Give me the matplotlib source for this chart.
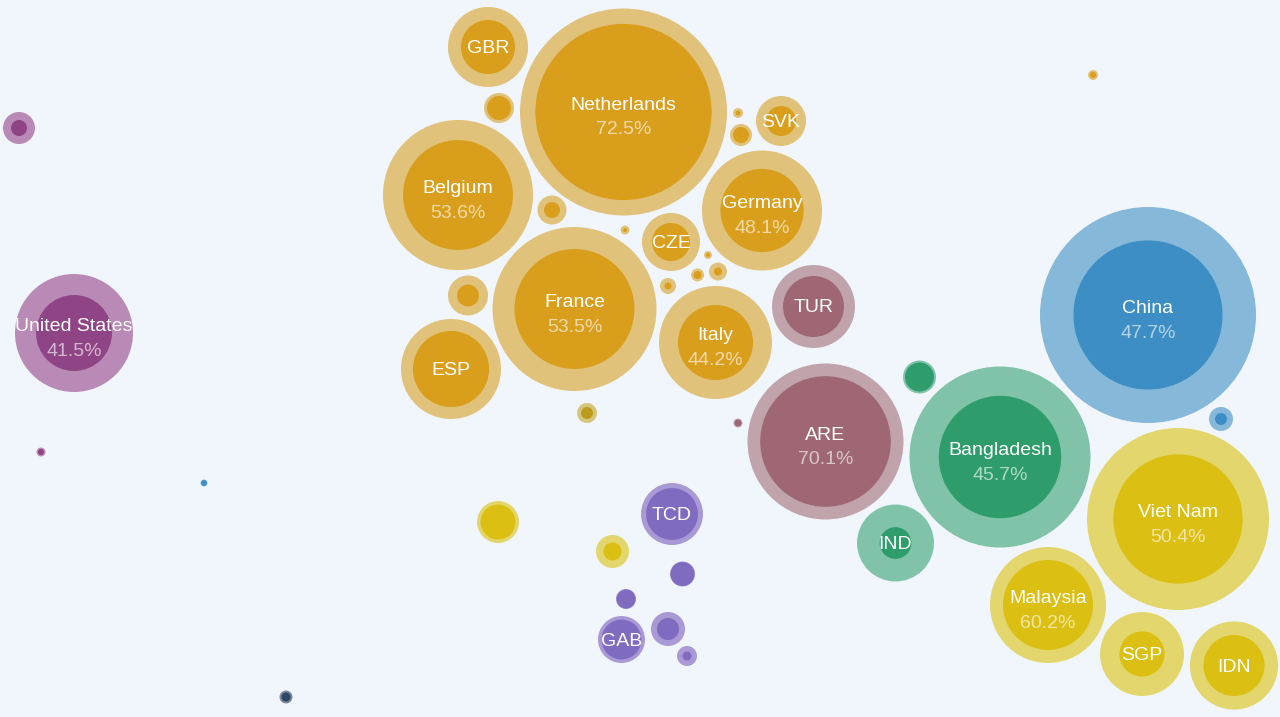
import numpy as np
import matplotlib
matplotlib.use("Agg")
import matplotlib.pyplot as plt
from matplotlib.patches import Circle

# ---- data ----
labels = ["", "United States", "",
          "", "China", "",
          "",
          "GBR", "Netherlands", "", "Belgium", "", "", "", "", "SVK", "Germany", "CZE",
          "France", "", "ESP", "Italy", "", "", "", "", "",
          "",
          "TUR", "", "ARE",
          "", "Bangladesh", "IND",
          "Viet Nam", "Malaysia", "SGP", "IDN", "", "",
          "TCD", "", "", "GAB", "", ""]
show_pct = ["United States", "China", "Netherlands", "Belgium", "Germany", "France",
            "Italy", "ARE", "Bangladesh", "Viet Nam", "Malaysia"]
groups = ["purple"] * 3 + ["blue"] * 3 + ["navy"] + ["gold"] * 20 + ["olive"] + \
         ["mauve"] * 3 + ["green"] * 3 + ["yellow"] * 6 + ["violet"] * 6
# total value (area units) and share (%)
totals = [2.56, 34.8, 0.20,
          0.12, 116.6, 1.44,
          0.42,
          16.0, 107.1, 2.25, 56.3, 2.10, 0.20, 0.25, 1.21, 6.25, 36.0, 8.41,
          67.2, 4.00, 25.0, 31.9, 0.16, 0.81, 0.42, 0.64, 0.25,
          1.00,
          17.2, 0.20, 60.8,
          2.72, 81.9, 14.8,
          82.8, 33.6, 17.6, 19.4, 4.41, 2.72,
          9.61, 1.56, 1.00, 5.52, 2.89, 1.00]
shares = [25.0, 41.5, 45.0,
          70.0, 47.7, 25.0,
          50.0,
          45.6, 72.5, 64.0, 53.6, 30.0, 20.0, 25.0, 53.0, 36.0, 48.1, 43.0,
          53.5, 30.0, 58.0, 44.2, 25.0, 20.0, 38.0, 19.0, 36.0,
          36.0,
          54.0, 60.0, 70.1,
          77.0, 45.7, 17.0,
          50.4, 60.2, 29.0, 48.0, 69.0, 30.0,
          70.0, 92.0, 90.0, 72.0, 42.0, 20.0]
# layout positions (force-packed)
xs = [19, 74, 41,
      204, 1148, 1221,
      286,
      488, 623.5, 499, 458, 552, 625, 738, 741, 781, 762, 671,
      574.5, 468, 451, 715.5, 708, 718, 697.5, 668, 1093,
      587,
      813.5, 738, 825.5,
      919.5, 1000, 895.5,
      1178, 1048, 1142, 1234, 498, 612.5,
      672, 682.5, 626, 621.5, 668, 687]
ys = [128, 333, 452,
      483, 315, 419,
      697,
      47, 112, 108, 195, 210, 230, 113, 135, 121, 210.5, 242,
      309, 295.5, 369, 342.5, 255, 271.5, 275, 286, 75,
      413,
      306.5, 423, 441.5,
      377, 457, 543,
      519, 605, 654, 665.5, 522, 551.5,
      514, 574, 599, 639.5, 629, 656]

palette = {
    "purple": ("#b98ab6", "#8f4585"),
    "blue": ("#85b8d9", "#3d8ec4"),
    "navy": ("#7d8a99", "#2d4766"),
    "gold": ("#e0c27a", "#d99f1c"),
    "olive": ("#d6c67c", "#bb9a1c"),
    "mauve": ("#c0a3ab", "#9e6773"),
    "green": ("#80c3a8", "#2f9c6b"),
    "yellow": ("#e3d66c", "#dbbf12"),
    "violet": ("#a99ad6", "#7f6bbf"),
}

bg = "#f1f6fd"
fig = plt.figure(figsize=(12.8, 7.17), dpi=100, facecolor=bg)
ax = fig.add_axes([0, 0, 1, 1])
ax.set_facecolor(bg)
ax.set_xlim(0, 1280)
ax.set_ylim(717, 0)
ax.set_aspect("equal")
ax.axis("off")

scale = 10.0  # radius per sqrt(area unit)
font = ["Liberation Sans", "DejaVu Sans"]

for lab, g, t, s, x, y in zip(labels, groups, totals, shares, xs, ys):
    R = scale * np.sqrt(t)
    r = R * np.sqrt(s / 100.0)
    oc, ic = palette[g]
    ax.add_patch(Circle((x, y), R, facecolor=oc, edgecolor="none", zorder=1))
    ax.add_patch(Circle((x, y), r, facecolor=ic, edgecolor="none", zorder=2))
    if lab:
        if lab in show_pct:
            ax.text(x, y - 6.5, lab, ha="center", va="center", color="white",
                    fontsize=14, family=font, zorder=3)
            ax.text(x, y + 18, f"{s:.1f}%", ha="center", va="center",
                    color="white", alpha=0.62, fontsize=14, family=font, zorder=3)
        else:
            ax.text(x, y + 1.5, lab, ha="center", va="center", color="white",
                    fontsize=14, family=font, zorder=3)

fig.savefig("out.png", dpi=100, facecolor=bg)
